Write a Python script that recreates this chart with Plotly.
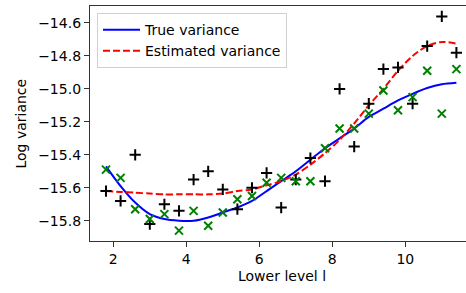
import plotly.graph_objects as go

levels = [1.8, 2.2, 2.6, 3.0, 3.4, 3.8, 4.2, 4.6, 5.0, 5.4, 5.8, 6.2, 6.6,
          7.0, 7.4, 7.8, 8.2, 8.6, 9.0, 9.4, 9.8, 10.2, 10.6, 11.0, 11.4]

true_var = [-15.47, -15.59, -15.69, -15.76, -15.79, -15.80, -15.80, -15.78,
            -15.75, -15.72, -15.68, -15.62, -15.56, -15.50, -15.43, -15.36,
            -15.30, -15.24, -15.17, -15.12, -15.07, -15.03, -14.995, -14.972, -14.963]

est_var = [-15.62, -15.625, -15.63, -15.635, -15.64, -15.64, -15.64, -15.64,
           -15.635, -15.62, -15.61, -15.585, -15.56, -15.52, -15.46, -15.39,
           -15.31, -15.21, -15.10, -15.00, -14.89, -14.80, -14.74, -14.715, -14.725]

samples_plus = [-15.62, -15.68, -15.40, -15.82, -15.70, -15.74, -15.55, -15.50,
                -15.61, -15.73, -15.60, -15.51, -15.72, -15.55, -15.42, -15.56,
                -15.00, -15.35, -15.09, -14.88, -14.87, -15.09, -14.74, -14.56, -14.78]

samples_x = [-15.49, -15.54, -15.73, -15.79, -15.76, -15.86, -15.74, -15.83,
             -15.75, -15.67, -15.65, -15.57, -15.54, -15.56, -15.56, -15.36,
             -15.24, -15.24, -15.15, -15.01, -15.13, -15.05, -14.89, -15.15, -14.88]

y_ticks = [-15.8, -15.6, -15.4, -15.2, -15.0, -14.8, -14.6]
y_tick_text = ["\u221215.8", "\u221215.6", "\u221215.4", "\u221215.2", "\u221215.0", "\u221214.8", "\u221214.6"]
x_ticks = [2, 4, 6, 8, 10]

FONT = "DejaVu Sans"

fig = go.Figure()
fig.add_trace(go.Scatter(x=levels, y=true_var, mode="lines", name="True variance",
                         line=dict(color="#0000ff", width=2, shape="spline", smoothing=0.8)))
fig.add_trace(go.Scatter(x=levels, y=est_var, mode="lines", name="Estimated variance",
                         line=dict(color="#ff0000", width=2, dash="7px,3px", shape="spline", smoothing=0.8)))
fig.add_trace(go.Scatter(x=levels, y=samples_plus, mode="markers", showlegend=False,
                         marker=dict(symbol="cross-thin", size=8, line=dict(color="black", width=2))))
fig.add_trace(go.Scatter(x=levels, y=samples_x, mode="markers", showlegend=False,
                         marker=dict(symbol="x-thin", size=8, line=dict(color="#008000", width=2))))

axis_common = dict(showgrid=False, zeroline=False, showline=True, linecolor="#333333",
                   linewidth=1.3, ticks="outside", ticklen=5, tickwidth=1.2, tickcolor="#333333",
                   automargin=False,
                   tickfont=dict(family=FONT, size=14, color="black"))

fig.update_xaxes(range=[1.362, 11.663], tickvals=x_ticks, mirror=True, **axis_common)
fig.update_yaxes(range=[-15.923, -14.497], tickvals=y_ticks, ticktext=y_tick_text, mirror=False,
                 **axis_common)

fig.add_annotation(text="Lower level l", xref="paper", yref="paper", x=0.511, y=-0.149,
                   xanchor="center", yanchor="middle", showarrow=False,
                   font=dict(family=FONT, size=14, color="black"))
fig.add_annotation(text="Log variance", xref="paper", yref="paper", x=-0.186, y=0.5,
                   xanchor="center", yanchor="middle", showarrow=False, textangle=-90,
                   font=dict(family=FONT, size=14, color="black"))

fig.update_layout(
    width=466, height=293, autosize=False,
    margin=dict(l=90, r=0, t=6, b=52),
    plot_bgcolor="white", paper_bgcolor="white",
    font=dict(family=FONT, size=14, color="black"),
    legend=dict(x=0.0186, y=0.97, xanchor="left", yanchor="top",
                bgcolor="rgba(255,255,255,0.8)", bordercolor="#d0d0d0", borderwidth=1,
                font=dict(family=FONT, size=14, color="black"), itemwidth=37,
                tracegroupgap=0),
)

fig.write_html("out.html", config={"displayModeBar": False},
               post_script="document.body.style.margin='0';document.body.style.overflow='hidden';")
